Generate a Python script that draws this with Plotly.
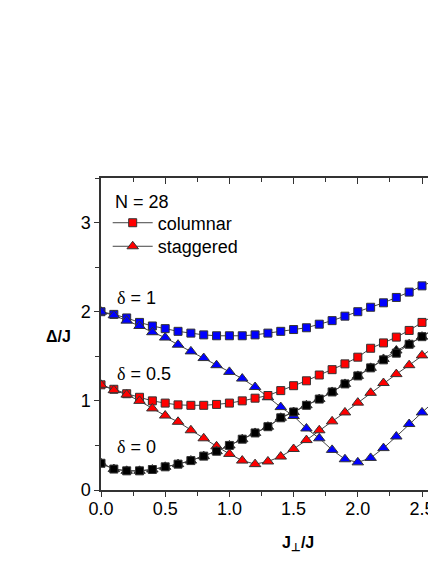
import plotly.graph_objects as go

# J_perp / J
j_perp = [0.0, 0.1, 0.2, 0.3, 0.4, 0.5, 0.6, 0.7, 0.8, 0.9, 1.0, 1.1, 1.2, 1.3,
          1.4, 1.5, 1.6, 1.7, 1.8, 1.9, 2.0, 2.1, 2.2, 2.3, 2.4, 2.5, 2.6]

# delta = 1
col_d1 = [2.00, 1.97, 1.93, 1.88, 1.84, 1.81, 1.78, 1.76, 1.74, 1.73, 1.73, 1.73, 1.74, 1.76,
          1.78, 1.80, 1.82, 1.86, 1.90, 1.95, 2.00, 2.05, 2.10, 2.16, 2.22, 2.29, 2.35]
stag_d1 = [2.00, 1.96, 1.90, 1.84, 1.77, 1.71, 1.63, 1.555, 1.48, 1.40, 1.325, 1.25, 1.155, 1.04,
           0.93, 0.83, 0.69, 0.58, 0.45, 0.345, 0.31, 0.36, 0.47, 0.60, 0.74, 0.87, 1.00]

# delta = 0.5
col_d05 = [1.18, 1.13, 1.08, 1.04, 1.00, 0.975, 0.955, 0.95, 0.95, 0.96, 0.975, 1.00, 1.03, 1.06,
           1.115, 1.17, 1.225, 1.29, 1.35, 1.415, 1.49, 1.59, 1.65, 1.715, 1.79, 1.88, 1.96]
stag_d05 = [1.18, 1.12, 1.07, 1.00, 0.915, 0.835, 0.765, 0.67, 0.58, 0.49, 0.405, 0.33, 0.29, 0.32,
            0.375, 0.46, 0.56, 0.67, 0.77, 0.87, 0.98, 1.09, 1.20, 1.30, 1.40, 1.51, 1.61]

# delta = 0
col_d0 = [0.30, 0.235, 0.215, 0.215, 0.23, 0.26, 0.29, 0.33, 0.38, 0.435, 0.50, 0.57, 0.64, 0.71,
          0.81, 0.875, 0.95, 1.02, 1.10, 1.19, 1.28, 1.37, 1.46, 1.535, 1.635, 1.72, 1.81]
stag_d0 = [0.30, 0.235, 0.215, 0.215, 0.23, 0.26, 0.29, 0.33, 0.38, 0.435, 0.50, 0.57, 0.64, 0.71,
           0.81, 0.875, 0.95, 1.02, 1.10, 1.19, 1.28, 1.37, 1.47, 1.565, 1.635, 1.72, 1.81]

FONT = 'Liberation Sans'
LINE = '#444444'
EDGE = '#333333'

fig = go.Figure()


def add_series(y, color, symbol, size):
    fig.add_trace(go.Scatter(
        x=j_perp, y=y, mode='lines+markers',
        line=dict(color=LINE, width=1),
        marker=dict(symbol=symbol, size=size, color=color,
                    line=dict(color=EDGE, width=1)),
        showlegend=False, hoverinfo='skip'
    ))


add_series(col_d1, '#0000ff', 'square', 8)
add_series(stag_d1, '#0000ff', 'triangle-up', 10)
add_series(col_d05, '#ff0000', 'square', 8)
add_series(stag_d05, '#ff0000', 'triangle-up', 10)
add_series(stag_d0, '#000000', 'triangle-up', 10)
add_series(col_d0, '#000000', 'square', 8)

# legend entries, one legend each so the row spacing can be set
for name, symbol, size, leg in [('columnar', 'square', 8, 'legend'),
                                ('staggered', 'triangle-up', 10, 'legend2')]:
    fig.add_trace(go.Scatter(
        x=[None], y=[None], mode='lines+markers', name=name, legend=leg,
        line=dict(color=LINE, width=1),
        marker=dict(symbol=symbol, size=size, color='#ff0000',
                    line=dict(color=EDGE, width=1))
    ))

# top axis with inward ticks
fig.add_trace(go.Scatter(x=[None], y=[None], xaxis='x2', showlegend=False, hoverinfo='skip'))

fig.add_annotation(x=0.037, y=0.922, xref='paper', yref='paper', text='N = 28',
                   showarrow=False, xanchor='left', yanchor='middle',
                   font=dict(size=18, color='black', family=FONT))

delta = '<span style="font-family:Liberation Serif">δ</span>'
for label, ypos in [('1', 2.15), ('0.5', 1.30), ('0', 0.48)]:
    fig.add_annotation(x=0.11, y=ypos, xref='x', yref='y', text=f'{delta} = {label}',
                       showarrow=False, xanchor='left', yanchor='middle',
                       font=dict(size=18, color='black', family=FONT))

fig.add_annotation(x=-0.1275, y=0.492, xref='paper', yref='paper', text='<b>Δ/J</b>',
                   showarrow=False, xanchor='center', yanchor='middle',
                   font=dict(size=16, color='black', family=FONT))
fig.add_annotation(x=0.588, y=-0.17, xref='paper', yref='paper', text='<b>J<sub>⊥</sub>/J</b>',
                   showarrow=False, xanchor='center', yanchor='middle',
                   font=dict(size=16, color='black', family=FONT))

axis_common = dict(showgrid=False, zeroline=False, showline=True, linecolor=EDGE, linewidth=1.5,
                   tickcolor=EDGE, automargin=False,
                   tickfont=dict(size=18, color='black', family=FONT))

legend_common = dict(x=0.02, xanchor='left', yanchor='top', bgcolor='rgba(0,0,0,0)',
                     font=dict(size=18, family=FONT), itemwidth=40)

# page body adds an 8px margin, so the figure is 16px smaller than the window
fig.update_layout(
    width=428, height=548,
    margin=dict(l=93, r=0, t=170, b=66),
    plot_bgcolor='white', paper_bgcolor='white',
    font=dict(family=FONT, color='black'),
    xaxis=dict(range=[0, 2.609], dtick=0.5, tick0=0, tickformat='.1f', ticks='outside', ticklen=5,
               ticklabelstandoff=-3,
               minor=dict(dtick=0.25, ticks='outside', ticklen=4, tickcolor=EDGE),
               **axis_common),
    xaxis2=dict(range=[0, 2.609], overlaying='x', side='top', anchor='y', dtick=0.5, tick0=0,
                ticks='inside', ticklen=6, showticklabels=False,
                minor=dict(dtick=0.25, ticks='inside', ticklen=4, tickcolor=EDGE),
                **axis_common),
    yaxis=dict(range=[0, 3.5], dtick=1, tick0=0, ticks='outside', ticklen=5,
               minor=dict(dtick=0.5, ticks='outside', ticklen=4, tickcolor=EDGE),
               **axis_common),
    legend=dict(y=0.915, **legend_common),
    legend2=dict(y=0.8395, **legend_common),
)

fig.write_html("out.html")
